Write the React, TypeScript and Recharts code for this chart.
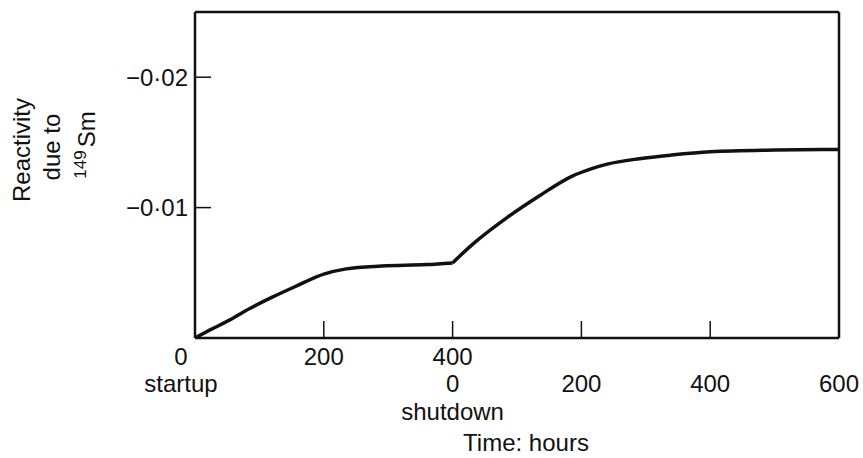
import { LineChart, Line, XAxis, YAxis, Label } from "recharts";

// time axis: hours after startup up to 400, then hours after shutdown
const hourTicks = [0, 200, 400, 600, 800, 1000];
const tickRowOne = ["0", "200", "400", "", "", ""];
const tickRowTwo = ["startup", "", "0", "200", "400", "600"];
const tickRowThree = ["", "", "shutdown", "", "", ""];

const reactivityTicks = [-0.02, -0.01];

// 149Sm reactivity while running at power
const startupHours = [0, 25, 50, 85, 120, 155, 200, 235, 290, 360, 400];
const startupSm = [0, -0.00066, -0.00128, -0.00226, -0.00313, -0.00393, -0.0049, -0.0053, -0.00552, -0.00563, -0.00576];

// after shutdown the Pm decays into Sm
const shutdownHours = [400, 430, 485, 535, 585, 615, 640, 690, 740, 800, 900, 1000];
const shutdownSm = [-0.00576, -0.00714, -0.00925, -0.01091, -0.0124, -0.01297, -0.01333, -0.01375, -0.01403, -0.01428, -0.01441, -0.01446];

const FONT = '"Liberation Sans", Arial, Helvetica, sans-serif';
const INK = "#111";

const toPoints = (hours: number[], sm: number[]) => hours.map((h, i) => ({ hours: h, sm: sm[i] }));
const startupData = toPoints(startupHours, startupSm);
const shutdownData = toPoints(shutdownHours, shutdownSm);

const formatReactivity = (v: number) => "\u2212" + Math.abs(v).toFixed(2).replace(".", "\u00b7");

const HourTick = (props: any) => {
  const { x, y, payload } = props;
  const i = hourTicks.indexOf(payload.value);
  const rows = [tickRowOne[i], tickRowTwo[i], tickRowThree[i]];
  const shift = i === 0 ? -14 : 0;
  const baselines = [27, 54, 82];
  return (
    <g>
      {rows.map((t, r) =>
        t ? (
          <text key={r} x={x + shift} y={y + baselines[r]} textAnchor="middle" fontSize={24} fontFamily={FONT} fill={INK}>
            {t}
          </text>
        ) : null
      )}
    </g>
  );
};

const ReactivityTick = (props: any) => {
  const { x, y, payload } = props;
  return (
    <text x={x} y={y} dy="0.36em" textAnchor="end" fontSize={24} fontFamily={FONT} fill={INK}>
      {formatReactivity(payload.value)}
    </text>
  );
};

const YTitle = (props: any) => {
  const { x, y } = props.viewBox;
  const rot = (cx: number, cy: number) => `rotate(-90 ${cx} ${cy})`;
  const col1 = { cx: x - 164, cy: y + 138 };
  const col2 = { cx: x - 134, cy: y + 135 };
  const col3 = { cx: x - 99, cy: y + 133 };
  return (
    <g fontFamily={FONT} fill={INK} fontSize={24}>
      <text x={col1.cx} y={col1.cy} transform={rot(col1.cx, col1.cy)} textAnchor="middle">
        Reactivity
      </text>
      <text x={col2.cx} y={col2.cy} transform={rot(col2.cx, col2.cy)} textAnchor="middle">
        due to
      </text>
      <text x={col3.cx} y={col3.cy} transform={rot(col3.cx, col3.cy)} textAnchor="middle">
        <tspan fontSize={17} dy={-9}>149</tspan>
        <tspan dx={3} dy={9}>Sm</tspan>
      </text>
    </g>
  );
};

const XTitle = (props: any) => {
  const { x, y } = props.viewBox;
  return (
    <text x={x + 331} y={y + 113} textAnchor="middle" fontSize={24} fontFamily={FONT} fill={INK}>
      Time: hours
    </text>
  );
};

const axisLine = { stroke: INK, strokeWidth: 2.5 };
const tickLine = { stroke: INK, strokeWidth: 1.5 };

export default function App() {
  return (
    <div style={{ position: "absolute", left: 0, top: 0, width: 863, height: 458, background: "#fff" }}>
      <LineChart width={863} height={458} margin={{ top: 11, right: 23, bottom: 119, left: 194 }}>
        <XAxis
          xAxisId="bottom"
          dataKey="hours"
          type="number"
          domain={[0, 1000]}
          allowDataOverflow
          ticks={hourTicks}
          interval={0}
          height={1}
          axisLine={axisLine}
          tickLine={tickLine}
          tickSize={-17}
          tickMargin={17}
          tick={<HourTick />}
        >
          <Label content={<XTitle />} />
        </XAxis>
        <XAxis
          xAxisId="top"
          orientation="top"
          dataKey="hours"
          type="number"
          domain={[0, 1000]}
          allowDataOverflow
          ticks={hourTicks}
          interval={0}
          height={1}
          axisLine={axisLine}
          tickLine={tickLine}
          tickSize={-16}
          tick={false}
        />
        <YAxis
          yAxisId="left"
          type="number"
          domain={[-0.025, 0]}
          reversed
          allowDataOverflow
          ticks={reactivityTicks}
          interval={0}
          width={1}
          axisLine={axisLine}
          tickLine={tickLine}
          tickSize={-16}
          tickMargin={23}
          tick={<ReactivityTick />}
        >
          <Label content={<YTitle />} />
        </YAxis>
        <YAxis
          yAxisId="right"
          orientation="right"
          type="number"
          domain={[-0.025, 0]}
          reversed
          allowDataOverflow
          ticks={reactivityTicks}
          interval={0}
          width={1}
          axisLine={axisLine}
          tickLine={tickLine}
          tickSize={-14}
          tick={false}
        />
        <Line
          xAxisId="bottom"
          yAxisId="left"
          data={startupData}
          dataKey="sm"
          type="monotone"
          stroke={INK}
          strokeWidth={3.5}
          dot={false}
          isAnimationActive={false}
        />
        <Line
          xAxisId="bottom"
          yAxisId="left"
          data={shutdownData}
          dataKey="sm"
          type="monotone"
          stroke={INK}
          strokeWidth={3.5}
          dot={false}
          isAnimationActive={false}
        />
      </LineChart>
    </div>
  );
}
